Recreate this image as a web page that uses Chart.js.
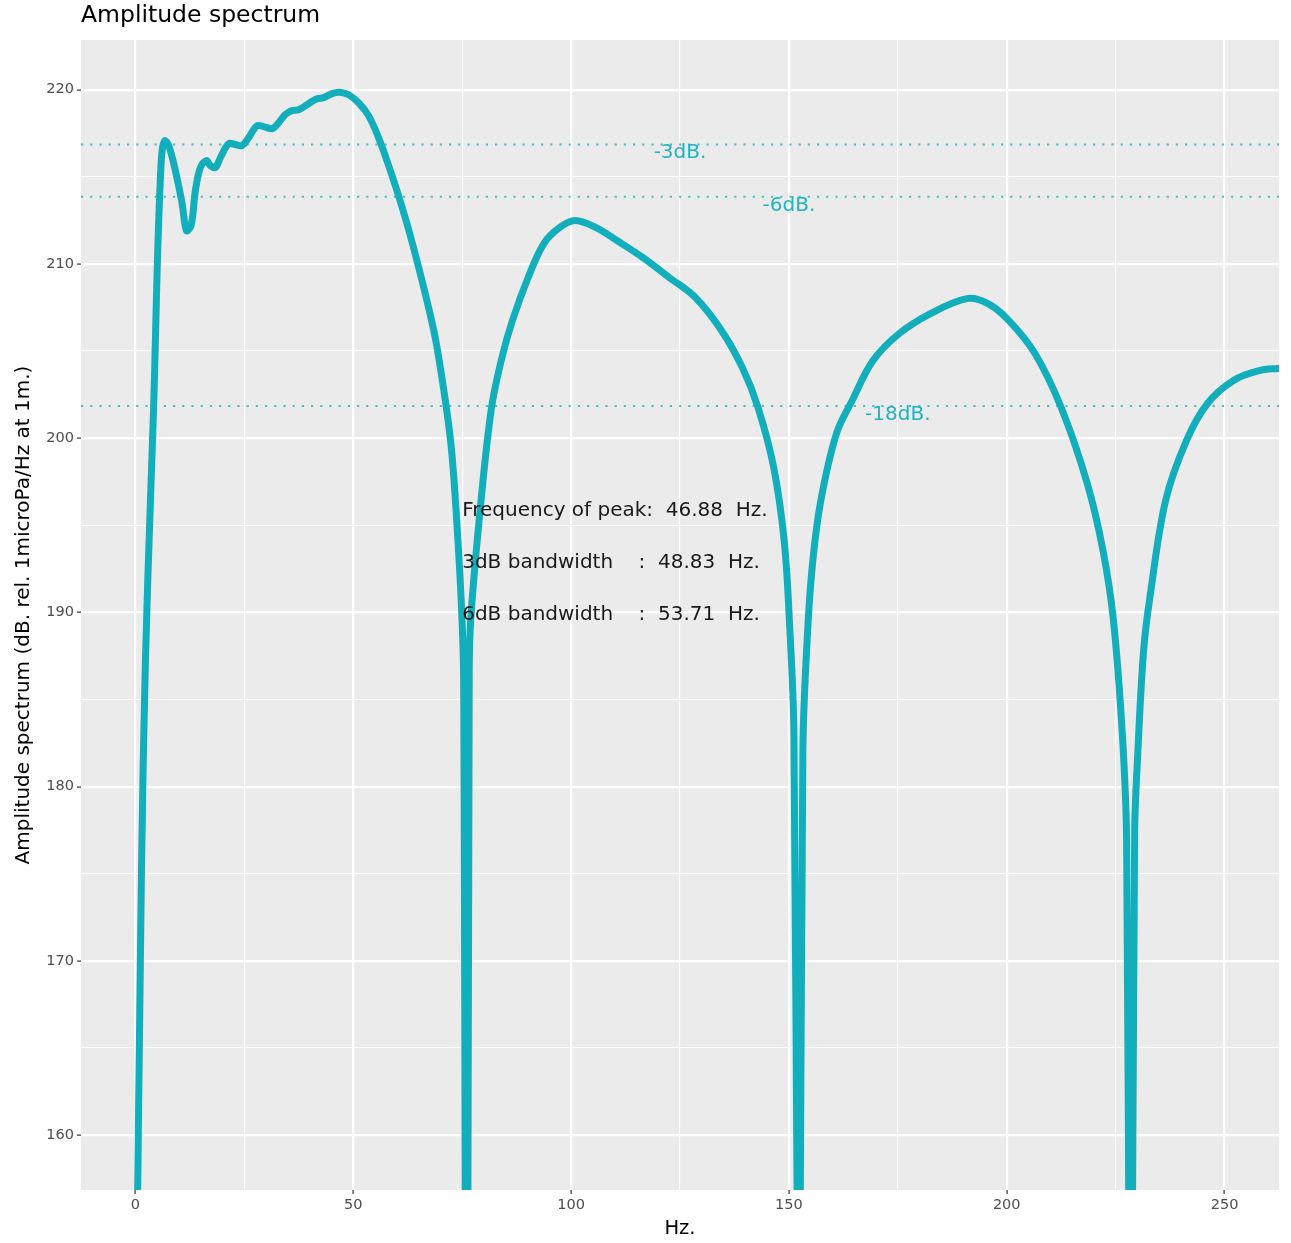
<!DOCTYPE html>
<html>
<head>
<meta charset="utf-8">
<title>Amplitude spectrum</title>
<script src="https://cdn.jsdelivr.net/npm/chart.js@4/dist/chart.umd.min.js"></script>
<style>
  html, body { margin: 0; padding: 0; background: #ffffff; }
  canvas { display: block; }
</style>
</head>
<body>
<canvas id="spectrum" width="1291" height="1243"></canvas>
<script>
// spectrum samples (Hz / dB re 1 microPa/Hz at 1 m)
const freqHz = [
    0, 1.38, 2.29, 3.44, 4.20, 4.59, 4.98, 5.34, 5.73, 6.12, 6.72, 7.64, 9.17, 10.71, 11.70,
    12.78, 13.76, 14.91, 16.28, 17.20, 18.35, 19.50, 21.40, 22.94, 24.47, 25.99, 27.91, 29.43,
    31.35, 32.50, 34.40, 35.94, 37.45, 39.38, 41.67, 43.19, 45.11, 46.88, 48.92, 51.22, 53.51,
    55.80, 57.73, 60.02, 62.32, 64.61, 66.90, 68.81, 70.34, 71.86, 72.71, 73.74, 74.77, 75.34,
    76.03, 76.61, 76.95, 79.33, 81.74, 84.13, 86.54, 90.14, 93.74, 97.34, 100.92, 105.73,
    110.53, 116.51, 122.52, 128.53, 134.52, 139.31, 142.91, 146.51, 148.92, 150.11,
    151.15, 152.29, 153.21, 154.31, 155.50, 157.32, 160.92, 164.52, 169.31, 175.30, 182.50,
    190.89, 195.69, 200.50, 206.49, 212.50, 218.49, 222.09, 224.50, 226.61, 227.52,
    228.44, 229.36, 230.05, 231.42, 232.89, 236.47, 241.28, 246.08, 252.06, 258.07, 262.27, 265.0
];
const levelDb = [
    145.0, 175.2, 187.25, 196.42, 201.99, 205.77, 209.62, 212.49, 214.95, 216.50, 217.07, 216.79,
    215.35, 213.46, 211.91, 212.20, 214.21, 215.53, 215.93, 215.64, 215.53, 216.10, 216.90,
    216.85, 216.79, 217.25, 217.93, 217.88, 217.76, 217.99, 218.57, 218.80, 218.85, 219.14,
    219.48, 219.54, 219.77, 219.85, 219.71, 219.25, 218.51, 217.25, 215.93, 214.21, 212.31,
    210.19, 207.90, 205.77, 203.48, 200.84, 198.90, 195.28, 190.69, 186.10, 127.6, 186.10,
    189.54, 196.42, 201.76, 204.63, 206.75, 209.22, 211.17, 212.08, 212.49, 212.08, 211.34,
    210.36, 209.22, 208.07, 206.18, 204.05, 201.76, 198.32, 194.10, 189.54, 183.00,
    140.0, 182.14, 189.00, 193.00, 196.42, 200.27, 202.16, 204.45, 206.00, 207.15, 208.01,
    207.72, 206.75, 204.86, 201.76, 197.40, 193.56, 189.54, 182.70, 176.80, 136.0,
    177.32, 181.74, 187.82, 190.90, 196.42, 199.87, 201.99, 203.31, 203.88, 204.00, 204.05
];

const peakFreq = 46.88;
const peakDb = 219.85;
const bandwidth3 = 48.83;
const bandwidth6 = 53.71;

// reference levels below the peak and where their labels sit
const dropDb = [3, 6, 18];
const dropLabelHz = [125, 150, 175];

const xTicks = [0, 25, 50, 75, 100, 125, 150, 175, 200, 225, 250];
const yTicks = [160, 165, 170, 175, 180, 185, 190, 195, 200, 205, 210, 215, 220];

const xRange = [-12.5, 262.5];
const yRange = [peakDb - 63, peakDb + 3];

const LINE = '#12aebc';
const FONT = 'DejaVu Sans';

const spectrumPoints = freqHz.map((f, i) => ({ x: f, y: levelDb[i] }));

const refLines = dropDb.map(d => ({
    label: '-' + d + 'dB.',
    data: [{ x: xRange[0], y: peakDb - d }, { x: xRange[1], y: peakDb - d }],
    borderColor: 'rgba(18,174,188,0.75)',
    borderWidth: 2,
    borderDash: [2.2, 7],
    pointRadius: 0,
    tension: 0,
    clip: 0
}));

const panelBg = {
    id: 'panelBg',
    beforeDraw(chart) {
        const a = chart.chartArea;
        const ctx = chart.ctx;
        ctx.save();
        ctx.fillStyle = '#ebebeb';
        ctx.fillRect(a.left, a.top, a.right - a.left, a.bottom - a.top);
        ctx.restore();
    }
};

const annotations = {
    id: 'annotations',
    afterDatasetsDraw(chart) {
        const ctx = chart.ctx;
        const xs = chart.scales.x, ys = chart.scales.y;
        ctx.save();
        ctx.textBaseline = 'middle';

        // level labels just under each dotted line
        ctx.font = '20px "' + FONT + '"';
        ctx.fillStyle = '#20b4c1';
        ctx.textAlign = 'center';
        dropDb.forEach((d, i) => {
            ctx.fillText('-' + d + 'dB.', xs.getPixelForValue(dropLabelHz[i]), ys.getPixelForValue(peakDb - d - 0.5));
        });

        // peak summary
        ctx.fillStyle = '#1a1a1a';
        ctx.textAlign = 'left';
        const tx = xs.getPixelForValue(75);
        ctx.fillText('Frequency of peak:  ' + peakFreq.toFixed(2) + '  Hz.', tx, ys.getPixelForValue(peakDb - 24));
        ctx.fillText('3dB bandwidth    :  ' + bandwidth3.toFixed(2) + '  Hz.', tx, ys.getPixelForValue(peakDb - 27));
        ctx.fillText('6dB bandwidth    :  ' + bandwidth6.toFixed(2) + '  Hz.', tx, ys.getPixelForValue(peakDb - 30));
        ctx.restore();
    },
    afterDraw(chart) {
        const ctx = chart.ctx;
        const a = chart.chartArea;
        ctx.save();
        ctx.fillStyle = '#000000';
        ctx.textBaseline = 'middle';

        ctx.font = '23.5px "' + FONT + '"';
        ctx.textAlign = 'left';
        ctx.fillText('Amplitude spectrum', a.left, 16);

        ctx.font = '19.5px "' + FONT + '"';
        ctx.textAlign = 'center';
        ctx.fillText('Hz.', (a.left + a.right) / 2, 1229);

        ctx.font = '20px "' + FONT + '"';
        ctx.translate(24, (a.top + a.bottom) / 2);
        ctx.rotate(-Math.PI / 2);
        ctx.fillText('Amplitude spectrum (dB. rel. 1microPa/Hz at 1m.)', 0, 0);
        ctx.restore();
    }
};

function isMajor(v, step) {
    return Math.abs(v % step) < 1e-9;
}

new Chart(document.getElementById('spectrum'), {
    type: 'line',
    data: {
        datasets: [
            {
                label: 'spectrum',
                data: spectrumPoints,
                borderColor: LINE,
                borderWidth: 7,
                borderJoinStyle: 'round',
                pointRadius: 0,
                tension: 0.35,
                capBezierPoints: false,
                clip: 0
            },
            ...refLines
        ]
    },
    options: {
        responsive: false,
        animation: false,
        devicePixelRatio: 1,
        layout: { padding: { left: 0, right: 12, top: 40, bottom: 0 } },
        plugins: {
            legend: { display: false },
            tooltip: { enabled: false },
            title: { display: false }
        },
        scales: {
            x: {
                type: 'linear',
                min: xRange[0],
                max: xRange[1],
                afterBuildTicks(scale) { scale.ticks = xTicks.map(v => ({ value: v })); },
                afterFit(scale) { scale.height = 53; },
                border: { display: false },
                grid: {
                    color: '#ffffff',
                    lineWidth: c => (c.tick && isMajor(c.tick.value, 50)) ? 2.2 : 1.1,
                    tickColor: c => (c.tick && isMajor(c.tick.value, 50)) ? '#333333' : 'rgba(0,0,0,0)',
                    tickWidth: 1.2,
                    tickLength: 4
                },
                ticks: {
                    autoSkip: false,
                    maxRotation: 0,
                    padding: 3,
                    color: '#4d4d4d',
                    font: { family: FONT, size: 14.5 },
                    callback: v => isMajor(v, 50) ? String(v) : ''
                }
            },
            y: {
                type: 'linear',
                min: yRange[0],
                max: yRange[1],
                afterBuildTicks(scale) { scale.ticks = yTicks.map(v => ({ value: v })); },
                afterFit(scale) { scale.width = 81; },
                border: { display: false },
                grid: {
                    color: '#ffffff',
                    lineWidth: c => (c.tick && isMajor(c.tick.value, 10)) ? 2.2 : 1.1,
                    tickColor: c => (c.tick && isMajor(c.tick.value, 10)) ? '#333333' : 'rgba(0,0,0,0)',
                    tickWidth: 1.2,
                    tickLength: 4
                },
                ticks: {
                    autoSkip: false,
                    padding: 3,
                    color: '#4d4d4d',
                    font: { family: FONT, size: 14.5 },
                    callback: v => isMajor(v, 10) ? String(v) : ''
                }
            }
        }
    },
    plugins: [panelBg, annotations]
});
</script>
</body>
</html>
